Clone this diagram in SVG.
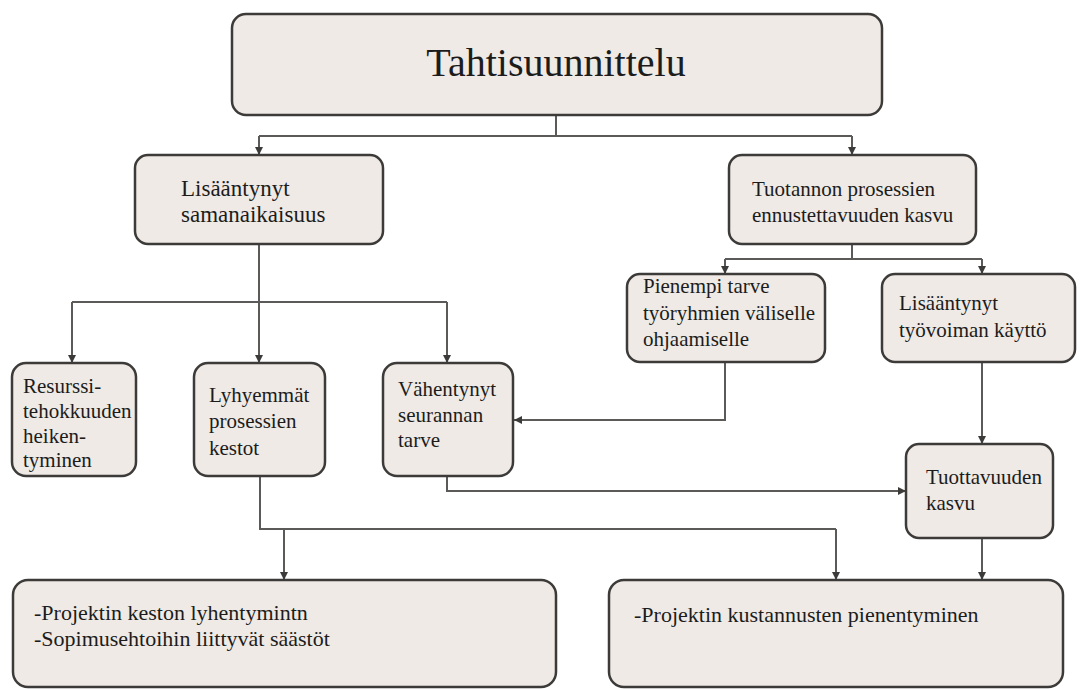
<svg xmlns="http://www.w3.org/2000/svg" width="1082" height="689" viewBox="0 0 1082 689">
<defs>
<style>
.box{fill:#efeae5;stroke:#3d3b39;stroke-width:2.5}
.t{font-family:"Liberation Serif","Times New Roman",serif;font-size:21px;fill:#1c1c1c}
.big{font-size:23px}
.bot{font-size:22px}
.title{font-family:"Liberation Serif","Times New Roman",serif;font-size:40px;fill:#1c1c1c;text-anchor:middle}
.c{fill:none;stroke:#5c5a58;stroke-width:2}
</style>
<marker id="ah" markerUnits="userSpaceOnUse" viewBox="0 0 8 8" refX="8" refY="4" markerWidth="8" markerHeight="8" orient="auto">
<path d="M0,0 L8,4 L0,8 z" fill="#3d3b39"/>
</marker>
</defs>
<rect width="1082" height="689" fill="#ffffff"/>
<g id="connectors">
<path class="c" d="M556,115 V136"/>
<path class="c" d="M259,136 H852"/>
<path class="c" d="M259,136 V155" marker-end="url(#ah)"/>
<path class="c" d="M852,136 V155" marker-end="url(#ah)"/>
<path class="c" d="M259,244 V363" marker-end="url(#ah)"/>
<path class="c" d="M72,302 H447"/>
<path class="c" d="M72,302 V363" marker-end="url(#ah)"/>
<path class="c" d="M447,302 V363" marker-end="url(#ah)"/>
<path class="c" d="M852,244 V259"/>
<path class="c" d="M725,259 H982"/>
<path class="c" d="M725,259 V274" marker-end="url(#ah)"/>
<path class="c" d="M982,259 V274" marker-end="url(#ah)"/>
<path class="c" d="M725,362 V420 H514" marker-end="url(#ah)"/>
<path class="c" d="M447,476 V491 H906" marker-end="url(#ah)"/>
<path class="c" d="M982,362 V444" marker-end="url(#ah)"/>
<path class="c" d="M260,476 V529 H836"/>
<path class="c" d="M284,529 V580" marker-end="url(#ah)"/>
<path class="c" d="M836,529 V580" marker-end="url(#ah)"/>
<path class="c" d="M982,538 V580" marker-end="url(#ah)"/>
</g>
<g id="n-top">
<rect class="box" x="232" y="14" width="650" height="101" rx="14"/>
<text class="title" x="556" y="76">Tahtisuunnittelu</text>
</g>
<g id="n-samanaikaisuus">
<rect class="box" x="135" y="155" width="248" height="89" rx="13"/>
<text class="t big" x="181" y="196">Lisääntynyt</text>
<text class="t big" x="181" y="222">samanaikaisuus</text>
</g>
<g id="n-ennustettavuus">
<rect class="box" x="729" y="155" width="247" height="89" rx="13"/>
<text class="t" x="752" y="196">Tuotannon prosessien</text>
<text class="t" x="752" y="222">ennustettavuuden kasvu</text>
</g>
<g id="n-resurssi">
<rect class="box" x="12" y="363" width="124" height="113" rx="14"/>
<text class="t" x="23" y="393">Resurssi-</text>
<text class="t" x="23" y="418">tehokkuuden</text>
<text class="t" x="23" y="443">heiken-</text>
<text class="t" x="23" y="467">tyminen</text>
</g>
<g id="n-lyhyemmat">
<rect class="box" x="194" y="363" width="131" height="113" rx="14"/>
<text class="t" x="209" y="402">Lyhyemmät</text>
<text class="t" x="209" y="428">prosessien</text>
<text class="t" x="209" y="455">kestot</text>
</g>
<g id="n-vahentynyt">
<rect class="box" x="383" y="363" width="130" height="113" rx="14"/>
<text class="t" x="398" y="396">Vähentynyt</text>
<text class="t" x="398" y="422">seurannan</text>
<text class="t" x="398" y="447">tarve</text>
</g>
<g id="n-pienempi">
<rect class="box" x="627" y="274" width="198" height="88" rx="13"/>
<text class="t" x="643" y="293">Pienempi tarve</text>
<text class="t" x="643" y="320">työryhmien väliselle</text>
<text class="t" x="643" y="346">ohjaamiselle</text>
</g>
<g id="n-tyovoima">
<rect class="box" x="882" y="274" width="193" height="88" rx="13"/>
<text class="t" x="899" y="310">Lisääntynyt</text>
<text class="t" x="899" y="337">työvoiman käyttö</text>
</g>
<g id="n-tuottavuus">
<rect class="box" x="906" y="444" width="147" height="94" rx="13"/>
<text class="t" x="926" y="484">Tuottavuuden</text>
<text class="t" x="926" y="510">kasvu</text>
</g>
<g id="n-kesto">
<rect class="box" x="13" y="580" width="543" height="107" rx="15"/>
<text class="t bot" x="34" y="620">-Projektin keston lyhentymintn</text>
<text class="t bot" x="34" y="646">-Sopimusehtoihin liittyvät säästöt</text>
</g>
<g id="n-kustannus">
<rect class="box" x="609" y="580" width="454" height="107" rx="15"/>
<text class="t bot" x="634" y="622">-Projektin kustannusten pienentyminen</text>
</g>
</svg>
